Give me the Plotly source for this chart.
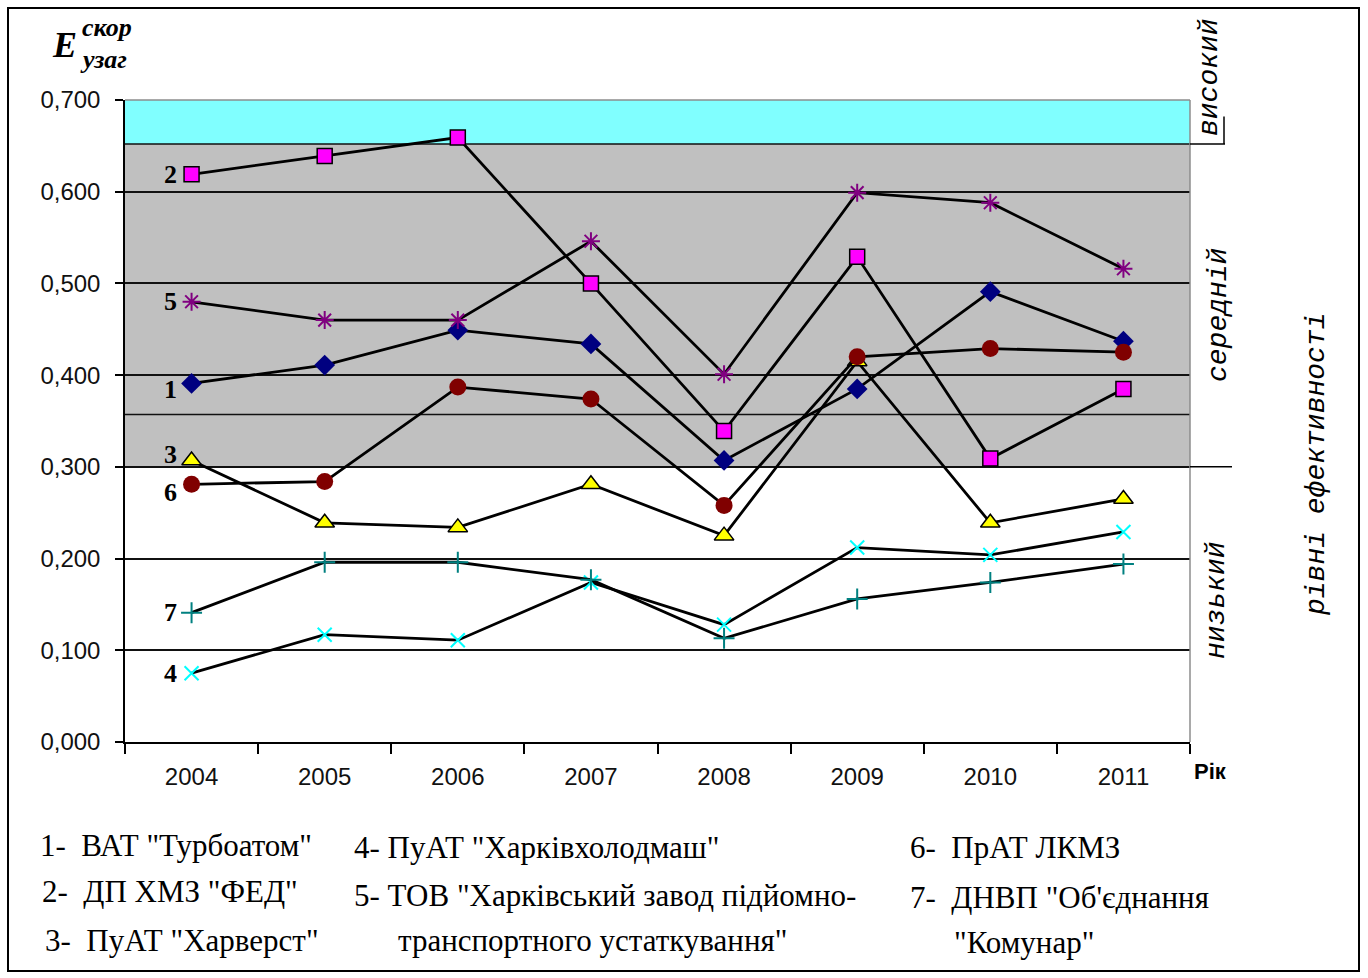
import plotly.graph_objects as go

years = ["2004", "2005", "2006", "2007", "2008", "2009", "2010", "2011"]

s1 = [0.391, 0.411, 0.449, 0.434, 0.307, 0.385, 0.491, 0.437]   # ВАТ "Турбоатом"
s2 = [0.619, 0.639, 0.659, 0.500, 0.339, 0.529, 0.309, 0.385]   # ДП ХМЗ "ФЕД"
s3 = [0.307, 0.239, 0.234, 0.281, 0.225, 0.415, 0.239, 0.265]   # ПуАТ "Харверст"
s4 = [0.075, 0.117, 0.111, 0.174, 0.128, 0.212, 0.204, 0.229]   # ПуАТ "Харківхолодмаш"
s5 = [0.480, 0.460, 0.460, 0.546, 0.401, 0.599, 0.588, 0.516]   # ТОВ ...
s6 = [0.281, 0.284, 0.387, 0.374, 0.258, 0.420, 0.429, 0.425]   # ПрАТ ЛКМЗ
s7 = [0.141, 0.196, 0.196, 0.177, 0.113, 0.156, 0.174, 0.194]   # ДНВП "Об'єднання "Комунар"

y_ticks = [0.0, 0.1, 0.2, 0.3, 0.4, 0.5, 0.6, 0.7]
low_mid = 0.300
mid_high = 0.652
extra_line = 0.357
y_max = 0.700

legend_items = [
    ("1-  ВАТ \"Турбоатом\"", 38, 845),
    ("2-  ДП ХМЗ \"ФЕД\"", 40, 891),
    ("3-  ПуАТ \"Харверст\"", 43, 940),
    ("4- ПуАТ \"Харківхолодмаш\"", 352, 848),
    ("5- ТОВ \"Харківський завод підйомно-", 352, 895),
    ("транспортного устаткування\"", 396, 940),
    ("6-  ПрАТ ЛКМЗ", 908, 848),
    ("7-  ДНВП \"Об'єднання", 908, 897),
    ("\"Комунар\"", 952, 942),
]

W, H = 1368, 978
L, R, T, B = 125, 1190, 100, 742

def px(x):
    return (x - L) / (R - L)

def py(y):
    return (B - y) / (B - T)

fig = go.Figure()

series = [
    (s1, "1", dict(symbol="diamond", size=16, color="#000080", line=dict(width=0))),
    (s2, "2", dict(symbol="square", size=15, color="#FF00FF", line=dict(width=1.5, color="black"))),
    (s3, "3", dict(symbol="triangle-up", size=17, color="#FFFF00", line=dict(width=1.5, color="black"))),
    (s4, "4", dict(symbol="x-thin", size=14, color="#00FFFF", line=dict(width=2, color="#00FFFF"))),
    (s5, "5", dict(symbol="asterisk", size=15, color="#800080", line=dict(width=2, color="#800080"))),
    (s6, "6", dict(symbol="circle", size=17, color="#800000", line=dict(width=0))),
    (s7, "7", dict(symbol="cross-thin", size=15, color="#008080", line=dict(width=2, color="#008080"))),
]
for vals, name, mk in series:
    fig.add_trace(go.Scatter(x=years, y=vals, mode="lines+markers", name=name,
                             line=dict(color="black", width=2.8), marker=mk,
                             showlegend=False))

shapes = [
    dict(type="rect", xref="paper", yref="y", x0=0, x1=1, y0=mid_high, y1=y_max,
         fillcolor="#80FFFF", line=dict(width=0), layer="below"),
    dict(type="rect", xref="paper", yref="y", x0=0, x1=1, y0=low_mid, y1=mid_high,
         fillcolor="#C0C0C0", line=dict(width=0), layer="below"),
]
for yv in [extra_line, mid_high]:
    shapes.append(dict(type="line", xref="paper", yref="y", x0=0, x1=1, y0=yv, y1=yv,
                       line=dict(color="#111", width=1.5), layer="between"))
# plot-area right and top borders
shapes.append(dict(type="line", xref="paper", yref="paper", x0=1, x1=1, y0=0, y1=1,
                   line=dict(color="#8c8c8c", width=1.5)))
shapes.append(dict(type="line", xref="paper", yref="paper", x0=0, x1=1, y0=1, y1=1,
                   line=dict(color="#8c8c8c", width=1.5)))
# level dividers to the right
shapes.append(dict(type="line", xref="paper", yref="y", x0=1, x1=px(1225), y0=mid_high, y1=mid_high,
                   line=dict(color="black", width=1.5)))
shapes.append(dict(type="line", xref="paper", yref="y", x0=px(1224), x1=px(1224), y0=mid_high, y1=0.682,
                   line=dict(color="black", width=1.5)))
shapes.append(dict(type="line", xref="paper", yref="y", x0=1, x1=px(1232), y0=low_mid, y1=low_mid,
                   line=dict(color="black", width=1.5)))
# outer frame
shapes.append(dict(type="rect", xref="paper", yref="paper", x0=px(8), x1=px(1359), y0=py(971), y1=py(8),
                   line=dict(color="black", width=2), fillcolor="rgba(0,0,0,0)"))

ann = []
# series number labels near first points (category index 0 = 2004)
labels_first = [("1", s1[0], -6), ("2", s2[0], 0), ("3", s3[0], 6), ("4", s4[0], 0),
                ("5", s5[0], 0), ("6", s6[0], -8), ("7", s7[0], 0)]
for lab, v, dy in labels_first:
    ann.append(dict(x=0, y=v, xref="x", yref="y", text="<b>" + lab + "</b>", showarrow=False,
                    xshift=-21, yshift=dy, xanchor="center", yanchor="middle",
                    font=dict(family="Liberation Serif", size=26, color="black")))

# title E^скор_узаг
ann.append(dict(x=px(50), y=py(45), xref="paper", yref="paper", text="<b><i>E</i></b>",
                showarrow=False, xanchor="left", yanchor="middle",
                font=dict(family="Liberation Serif", size=36, color="black")))
ann.append(dict(x=px(80), y=py(27), xref="paper", yref="paper", text="<b><i>скор</i></b>",
                showarrow=False, xanchor="left", yanchor="middle",
                font=dict(family="Liberation Serif", size=26, color="black")))
ann.append(dict(x=px(78), y=py(60), xref="paper", yref="paper", text="<b><i>узаг</i></b>",
                showarrow=False, xanchor="left", yanchor="middle",
                font=dict(family="Liberation Serif", size=26, color="black")))

# Рік
ann.append(dict(x=px(1192), y=py(771), xref="paper", yref="paper", text="<b>Рік</b>",
                showarrow=False, xanchor="left", yanchor="middle",
                font=dict(family="Liberation Sans", size=22, color="black")))

# rotated level labels
rot = [("високий", 1210, 77), ("середній", 1218, 315), ("низький", 1216, 600),
       ("рівні ефективності", 1316, 465)]
for txt, xx, yy in rot:
    ann.append(dict(x=px(xx), y=py(yy), xref="paper", yref="paper", text="<i>" + txt + "</i>",
                    showarrow=False, textangle=-90, xanchor="center", yanchor="middle",
                    font=dict(family="Liberation Mono", size=28, color="black")))

for txt, xx, yy in legend_items:
    ann.append(dict(x=px(xx), y=py(yy), xref="paper", yref="paper", text=txt,
                    showarrow=False, xanchor="left", yanchor="middle",
                    font=dict(family="Liberation Serif", size=31, color="black")))

fig.update_layout(
    width=W, height=H,
    margin=dict(l=L, r=W - R, t=T, b=H - B),
    paper_bgcolor="white", plot_bgcolor="white",
    separators=", ",
    shapes=shapes, annotations=ann,
    xaxis=dict(type="category", range=[-0.5, 7.5], tickson="boundaries", ticks="outside",
               ticklen=10, tickwidth=1.5, tickcolor="black", showline=True, linecolor="black",
               linewidth=1.5, showgrid=False, zeroline=False, ticklabelstandoff=12,
               tickfont=dict(family="Liberation Sans", size=24, color="#111")),
    yaxis=dict(range=[0, y_max], tickvals=y_ticks, tickformat=".3f", ticks="outside",
               ticklen=8, tickwidth=1.5, tickcolor="black", showline=True, linecolor="black",
               linewidth=1.5, showgrid=True, gridcolor="#111", gridwidth=1.5, zeroline=False,
               ticklabelstandoff=10,
               tickfont=dict(family="Liberation Sans", size=24, color="#111")),
)

fig.write_html("out.html", config={"displayModeBar": False},
               post_script="document.body.style.margin='0';document.body.style.padding='0';")
